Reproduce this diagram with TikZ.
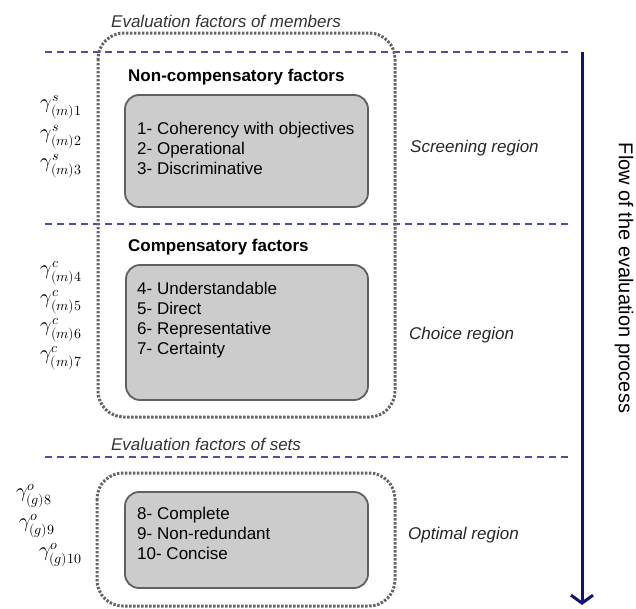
\documentclass[tikz,border=0pt]{standalone}
\usepackage{fontspec}
\usepackage{unicode-math}
\setmainfont{Liberation Sans}
\setmathfont{Latin Modern Math}
\usetikzlibrary{arrows.meta}

\definecolor{dividerblue}{RGB}{78,78,160}
\definecolor{flownavy}{RGB}{18,18,120}
\definecolor{dotgray}{RGB}{100,100,100}
\definecolor{boxgray}{RGB}{204,204,204}
\definecolor{boxedge}{RGB}{96,96,96}

\begin{document}
\begin{tikzpicture}[x=1pt,y=-1pt,
    divider/.style={draw=dividerblue,line width=1.5pt,dash pattern=on 7pt off 5pt},
    groupbox/.style={draw=dotgray,line width=3pt,dash pattern=on 2.4pt off 1.6pt,rounded corners=26pt},
    factorbox/.style={draw=boxedge,fill=boxgray,line width=1.8pt,rounded corners=14pt},
    itemtext/.style={anchor=west,align=left,inner sep=0pt,font=\fontsize{17}{20}\selectfont},
    headtext/.style={anchor=west,inner sep=0pt,font=\fontsize{17}{20}\selectfont\bfseries},
    regiontext/.style={anchor=west,inner sep=0pt,text=black!85,font=\fontsize{17}{20}\selectfont\itshape},
    grouptext/.style={inner sep=0pt,text=black!80,font=\fontsize{17}{20}\selectfont\itshape},
    weightlabel/.style={anchor=east,inner sep=0pt,font=\fontsize{20}{22}\selectfont}]

    \useasboundingbox (0,0) rectangle (636,608);

    % Draw the region dividers
    \coordinate (d1w) at (45,52);  \coordinate (d1e) at (572,52);
    \coordinate (d2w) at (45,224); \coordinate (d2e) at (572,224);
    \coordinate (d3w) at (45,457); \coordinate (d3e) at (572,457);
    \draw[divider] (d1w) -- (d1e);
    \draw[divider] (d2w) -- (d2e);
    \draw[divider] (d3w) -- (d3e);

    % Draw the flow arrow (top to bottom)
    \coordinate (flowtop) at (582,52);
    \coordinate (flowend) at (582,605);
    \draw[draw=flownavy,line width=3pt,-{Straight Barb[length=8pt,width=22pt,line width=3pt]}] (flowtop) -- (flowend);
    \node[inner sep=0pt,rotate=-90,font=\fontsize{20}{22}\selectfont] (flow) at (624,278) {Flow of the evaluation process};

    % Draw the group of members
    \draw[groupbox] (98,33) rectangle (395,417);
    \node[grouptext] (members) at (226,21) {Evaluation factors of members};

    % Draw the non-compensatory factors
    \node[headtext] (noncomp) at (128,77) {Non-compensatory factors};
    \draw[factorbox] (125,95) rectangle (368,207);
    \node[itemtext] (screenitems) at (137,148) {1- Coherency with objectives\\2- Operational\\3- Discriminative};
    \node[regiontext] (screening) at (410,148) {Screening region};

    % Draw the compensatory factors
    \node[headtext] (comp) at (128,247) {Compensatory factors};
    \draw[factorbox] (126,265) rectangle (368,400);
    \node[itemtext] (choiceitems) at (137,320) {4- Understandable\\5- Direct\\6- Representative\\7- Certainty};
    \node[regiontext] (choice) at (409,335) {Choice region};

    % Draw the group of sets
    \draw[groupbox] (97,473) rectangle (395,606);
    \node[grouptext] (sets) at (206,444) {Evaluation factors of sets};
    \draw[factorbox] (125,492) rectangle (368,588);
    \node[itemtext] (optimalitems) at (137,533) {8- Complete\\9- Non-redundant\\10- Concise};
    \node[regiontext] (optimal) at (408,535) {Optimal region};

    % Draw the weights of the factors
    \node[weightlabel] (gs1) at (82,107) {$\gamma^{s}_{(m)1}$};
    \node[weightlabel] (gs2) at (82,137) {$\gamma^{s}_{(m)2}$};
    \node[weightlabel] (gs3) at (82,166) {$\gamma^{s}_{(m)3}$};
    \node[weightlabel] (gc4) at (82,273) {$\gamma^{c}_{(m)4}$};
    \node[weightlabel] (gc5) at (82,302) {$\gamma^{c}_{(m)5}$};
    \node[weightlabel] (gc6) at (82,330) {$\gamma^{c}_{(m)6}$};
    \node[weightlabel] (gc7) at (82,358) {$\gamma^{c}_{(m)7}$};
    \node[weightlabel] (go8) at (52,496) {$\gamma^{o}_{(g)8}$};
    \node[weightlabel] (go9) at (55,526) {$\gamma^{o}_{(g)9}$};
    \node[weightlabel] (go10) at (82,555) {$\gamma^{o}_{(g)10}$};

\end{tikzpicture}
\end{document}
